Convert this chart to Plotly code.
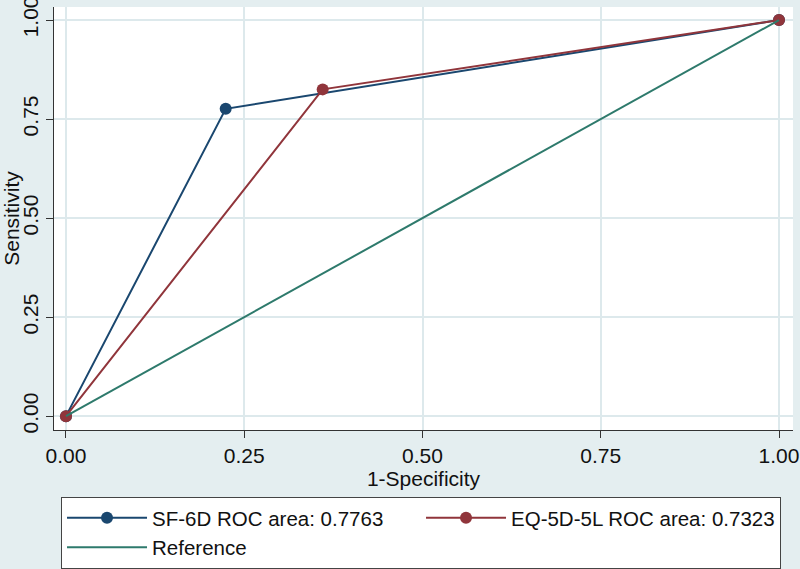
import plotly.graph_objects as go

# ROC points (1-specificity, sensitivity)
sf6d_x = [0, 0.224, 1]
sf6d_y = [0, 0.776, 1]
eq5d_x = [0, 0.360, 1]
eq5d_y = [0, 0.825, 1]
ref_x = [0, 1]
ref_y = [0, 1]
ticks = [0, 0.25, 0.5, 0.75, 1]
tick_labels = ["0.00", "0.25", "0.50", "0.75", "1.00"]

names = ["SF-6D ROC area: 0.7763", "EQ-5D-5L ROC area: 0.7323", "Reference"]

blue = "#1a476f"
red = "#90353b"
green = "#2e7a6c"
bg = "#e4eef0"
grid = "#dde9ec"

fig = go.Figure()
fig.add_trace(go.Scatter(x=sf6d_x, y=sf6d_y, mode="lines+markers", name=names[0],
                         line=dict(color=blue, width=2), marker=dict(color=blue, size=12)))
fig.add_trace(go.Scatter(x=eq5d_x, y=eq5d_y, mode="lines+markers", name=names[1],
                         line=dict(color=red, width=2), marker=dict(color=red, size=12)))
fig.add_trace(go.Scatter(x=ref_x, y=ref_y, mode="lines", name=names[2],
                         line=dict(color=green, width=2)))

axis_font = dict(family="Liberation Sans, Arial", size=21, color="#111")
fig.update_layout(
    width=800, height=569,
    margin=dict(l=54, r=7, t=7, b=139, autoexpand=False),
    paper_bgcolor=bg, plot_bgcolor="white",
    font=dict(family="Liberation Sans, Arial", color="#111"),
    xaxis=dict(range=[-0.0168, 1.0196], tickvals=ticks, ticktext=tick_labels,
               showgrid=True, gridcolor=grid, gridwidth=2, zeroline=False,
               showline=True, linecolor="#333", linewidth=1,
               ticks="outside", ticklen=7, tickcolor="#333", tickfont=axis_font,
               ticklabeloverflow="allow",
               title=dict(text="1-Specificity", font=axis_font, standoff=0)),
    yaxis=dict(range=[-0.035, 1.033], tickvals=ticks, ticktext=tick_labels,
               showgrid=True, gridcolor=grid, gridwidth=2, zeroline=False,
               showline=True, linecolor="#333", linewidth=1,
               ticks="outside", ticklen=7, tickcolor="#333", tickfont=axis_font,
               tickangle=-90, ticklabeloverflow="allow",
               title=dict(text="Sensitivity", font=axis_font, standoff=2)),
    legend=dict(orientation="h", x=0.0095, xanchor="left", y=-0.158, yanchor="top",
                bgcolor="white", bordercolor="#444", borderwidth=1,
                font=dict(family="Liberation Sans, Arial", size=20.5, color="#111"),
                itemwidth=80, entrywidth=264, entrywidthmode="pixels",
                traceorder="normal"),
    showlegend=True,
)

fig.write_html("out.html", config={"displayModeBar": False},
               post_script="document.body.style.margin='0';")
